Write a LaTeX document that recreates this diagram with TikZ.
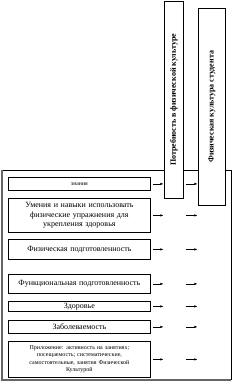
\documentclass[tikz,border=0pt]{standalone}
\usepackage{fontspec}
\setmainfont{Liberation Serif}
\usetikzlibrary{arrows.meta}
\begin{document}
\begin{tikzpicture}[x=1pt,y=-1pt,
  lbox/.style={draw,fill=white,line width=0.8pt,anchor=north west,inner sep=0pt,align=center,text width=142pt,minimum width=142pt},
  vbox/.style={draw,fill=white,line width=0.8pt,anchor=north west,inner sep=0pt,font=\bfseries\fontsize{8}{9}\selectfont},
  arr/.style={-{Latex[length=3.5pt,width=2.5pt]},line width=0.7pt}]
\useasboundingbox (0,0) rectangle (232,382);
% outer frame
\draw[line width=0.5pt] (2,170) -- (231,170) -- (231,380);
\draw[gray!80!black,line width=1.6pt] (2,170) -- (2,380) -- (231,380);
% vertical boxes
\node[vbox,minimum width=19pt,minimum height=197pt] (need) at (164,1) {};
\node[rotate=90,font=\bfseries\fontsize{8}{9}\selectfont] at (need.center) {Потребность в физической культуре};
\node[vbox,minimum width=27pt,minimum height=197pt] (cult) at (198,8) {};
\node[rotate=90,font=\bfseries\fontsize{8}{9}\selectfont] at (cult.center) {Физическая культура студента};
% left boxes
\node[lbox,minimum height=13pt,font=\fontsize{5.8}{6.5}\selectfont] (b1) at (8,177) {знания};
\node[lbox,minimum height=34pt,font=\fontsize{8}{9.5}\selectfont] (b2) at (8,198) {Умения и навыки использовать\\физические упражнения для\\укрепления здоровья};
\node[lbox,minimum height=20pt,font=\fontsize{8}{9}\selectfont] (b3) at (8,239) {Физическая подготовленность};
\node[lbox,minimum height=19pt,font=\fontsize{8}{9}\selectfont] (b4) at (8,274) {Функциональная подготовленность};
\node[lbox,minimum height=10pt,font=\fontsize{8}{9}\selectfont] (b5) at (8,301) {Здоровье};
\node[lbox,minimum height=13pt,font=\fontsize{8}{9}\selectfont] (b6) at (8,320) {Заболеваемость};
\node[lbox,minimum height=36pt,font=\fontsize{6}{7.5}\selectfont] (b7) at (8,341) {Приложение: активность на занятиях;\\посещаемость; систематические,\\самостоятельные, занятия Физической\\Культурой};
% arrows
\foreach \b in {b1,b2,b3,b4,b5,b6,b7}{
  \coordinate (\b s1) at ([xshift=2pt]\b.east);
  \coordinate (\b e1) at ([xshift=13pt]\b.east);
  \coordinate (\b s2) at ([xshift=35pt]\b.east);
  \coordinate (\b e2) at ([xshift=47pt]\b.east);
  \draw[arr] (\b s1) -- (\b e1);
  \draw[arr] (\b s2) -- (\b e2);
}
\end{tikzpicture}
\end{document}
